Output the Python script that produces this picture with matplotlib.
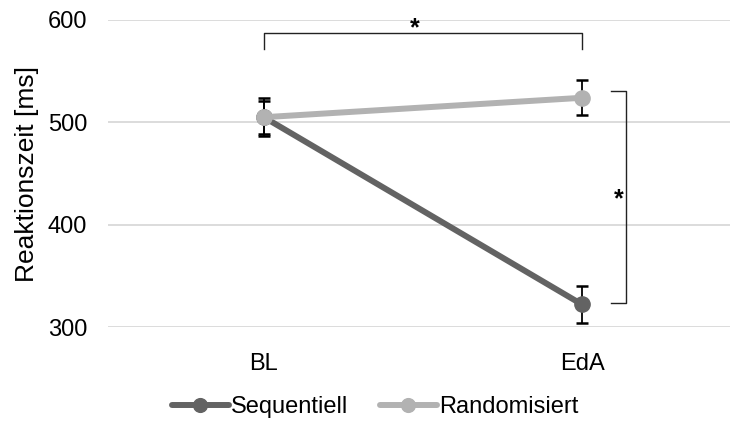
import matplotlib
matplotlib.use('Agg')
import matplotlib.pyplot as plt
import numpy as np

plt.rcParams['font.family'] = ['Liberation Sans', 'DejaVu Sans']

categories = ['BL', 'EdA']
seq_mean = [505, 322]
seq_err = [18.5, 18]
rand_mean = [505, 524]
rand_err = [16, 17]

seq_color = '#636363'
rand_color = '#b2b2b2'

fig = plt.figure(figsize=(7.3, 4.21), dpi=100)
ax = fig.add_axes([108/730, 1 - 327/421, 1 - 108/730, (327 - 20)/421])

x = np.arange(len(categories))

ax.plot(x, rand_mean, color=rand_color, lw=4.3, marker='o', ms=11,
        label='Randomisiert', zorder=4, solid_capstyle='round')
ax.plot(x, seq_mean, color=seq_color, lw=4.3, marker='o', ms=11,
        label='Sequentiell', zorder=3, solid_capstyle='round')
ax.errorbar(x, seq_mean, yerr=seq_err, fmt='none', ecolor='black',
            elinewidth=1.3, capsize=4.2, capthick=1.8, zorder=2)
ax.errorbar(x, rand_mean, yerr=rand_err, fmt='none', ecolor='black',
            elinewidth=1.3, capsize=4.2, capthick=1.8, zorder=2)

ax.set_ylim(300, 600)
ax.set_xlim(-0.49, 1.465)
ax.set_yticks([300, 400, 500, 600])
ax.set_xticks(x)
ax.set_xticklabels(categories)
ax.grid(axis='y', color='#d9d9d9', lw=1.3)
ax.set_axisbelow(True)
for s in ax.spines.values():
    s.set_visible(False)
ax.tick_params(axis='both', length=0, labelsize=17, colors='black')
ax.tick_params(axis='y', pad=15)
ax.tick_params(axis='x', pad=19)
ax.set_ylabel('Reaktionszeit [ms]', fontsize=19, labelpad=6)

# significance brackets
ax.plot([0, 0, 1, 1], [572, 587, 587, 572], color='#222222', lw=1, clip_on=False)
ax.text(0.475, 592, '*', ha='center', va='center', fontsize=18, fontweight='bold')
ax.plot([1.091, 1.138, 1.138, 1.091], [531, 531, 323, 323], color='#222222', lw=1, clip_on=False)
ax.text(1.116, 425, '*', ha='center', va='center', fontsize=18, fontweight='bold')

handles, labels = ax.get_legend_handles_labels()
fig.legend(handles[::-1], labels[::-1], loc='center', bbox_to_anchor=(0.514, 0.033),
           ncol=2, frameon=False, fontsize=17, handlelength=2.4,
           handletextpad=0.1, columnspacing=1.35, markerscale=0.9)

fig.savefig('out.png', dpi=100)
